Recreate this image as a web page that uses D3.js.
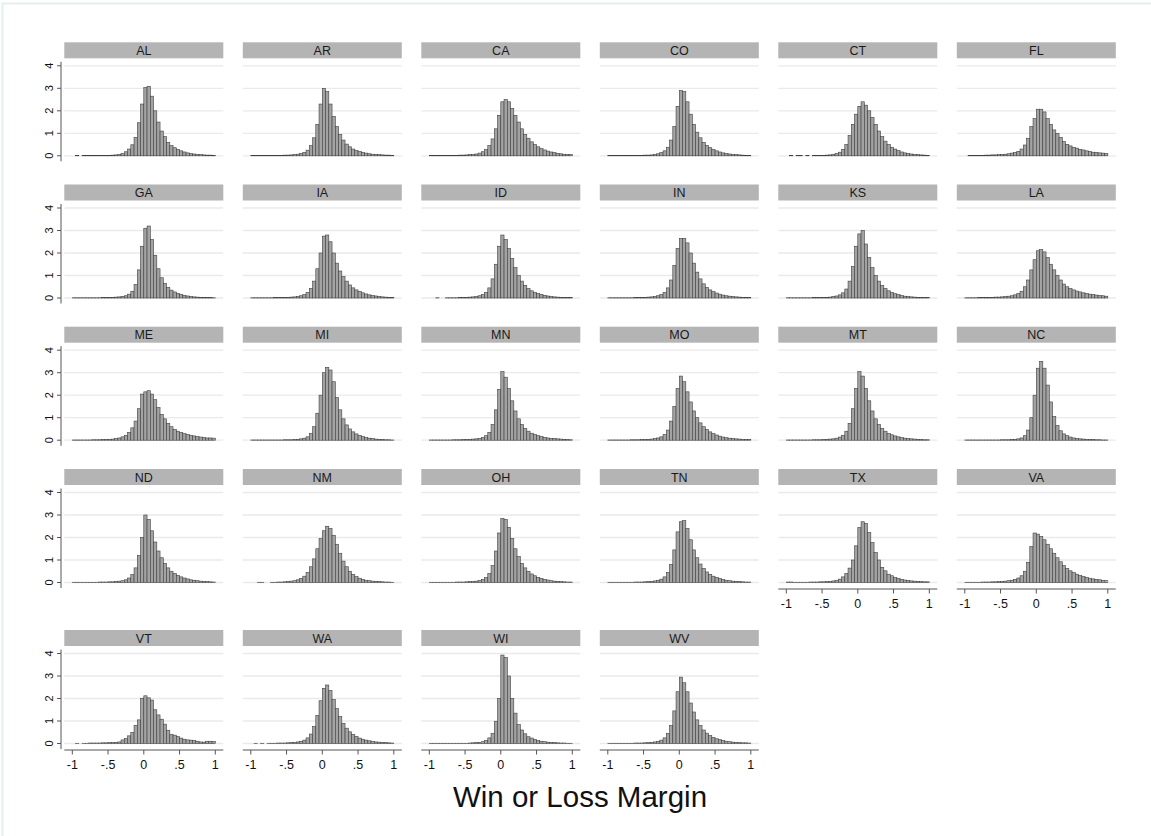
<!DOCTYPE html>
<html>
<head>
<meta charset="utf-8">
<script src="https://d3js.org/d3.v7.min.js"></script>
<style>
  body { margin: 0; background: #ffffff; }
  #chart text { font-family: Arial, "Liberation Sans", sans-serif; }
</style>
</head>
<body>
<div id="chart"></div>
<script>
// histogram density of win or loss margin, one panel per state
// 44 bins from -1 to 1, values are densities

var states = [
  "AL", "AR", "CA", "CO", "CT", "FL",
  "GA", "IA", "ID", "IN", "KS", "LA",
  "ME", "MI", "MN", "MO", "MT", "NC",
  "ND", "NM", "OH", "TN", "TX", "VA",
  "VT", "WA", "WI", "WV",
];

var binLow = -1;
var binHigh = 1;
var binCount = 44;

var xTicks = [-1, -0.5, 0, 0.5, 1];
var xTickLabels = ["-1", "-.5", "0", ".5", "1"];
var yTicks = [0, 1, 2, 3, 4];

var d_AL = [0, 0.01, 0, 0.01, 0.01, 0.01, 0.01, 0.01, 0.01, 0.01,
  0.02, 0.02, 0.03, 0.04, 0.06, 0.1, 0.18, 0.3, 0.49, 0.82,
  1.47, 2.3, 3.03, 3.09, 2.65, 2.0, 1.5, 1.1, 0.85, 0.6,
  0.45, 0.36, 0.28, 0.22, 0.17, 0.13, 0.1, 0.08, 0.06, 0.05,
  0.04, 0.03, 0.03, 0.02];
var d_AR = [0.01, 0.01, 0.01, 0.01, 0.01, 0.01, 0.01, 0.02, 0.02, 0.02,
  0.03, 0.03, 0.04, 0.05, 0.07, 0.1, 0.15, 0.25, 0.45, 0.8,
  1.4, 2.3, 3.0, 2.85, 2.3, 1.75, 1.3, 0.95, 0.7, 0.52,
  0.4, 0.3, 0.24, 0.19, 0.15, 0.12, 0.09, 0.07, 0.06, 0.05,
  0.04, 0.03, 0.03, 0.02];
var d_CA = [0.01, 0.01, 0.01, 0.01, 0.01, 0.01, 0.02, 0.02, 0.02, 0.03,
  0.03, 0.04, 0.05, 0.06, 0.08, 0.12, 0.18, 0.28, 0.45, 0.75,
  1.2, 1.8, 2.4, 2.5, 2.4, 2.1, 1.8, 1.5, 1.2, 0.95,
  0.78, 0.62, 0.5, 0.4, 0.32, 0.26, 0.21, 0.17, 0.14, 0.11,
  0.09, 0.07, 0.06, 0.05];
var d_CO = [0.01, 0.01, 0.01, 0.01, 0.01, 0.01, 0.01, 0.01, 0.02, 0.02,
  0.02, 0.03, 0.03, 0.04, 0.06, 0.09, 0.14, 0.22, 0.38, 0.7,
  1.3, 2.2, 2.9, 2.85, 2.4, 1.85, 1.4, 1.05, 0.8, 0.6,
  0.46, 0.36, 0.28, 0.22, 0.17, 0.13, 0.1, 0.08, 0.06, 0.05,
  0.04, 0.03, 0.02, 0.02];
var d_CT = [0, 0.01, 0, 0.01, 0.01, 0, 0.01, 0, 0.01, 0.01,
  0.01, 0.02, 0.03, 0.04, 0.06, 0.1, 0.16, 0.28, 0.5, 0.9,
  1.4, 1.85, 2.2, 2.4, 2.25, 2.0, 1.7, 1.4, 1.1, 0.85,
  0.65, 0.5, 0.38, 0.3, 0.23, 0.17, 0.13, 0.1, 0.08, 0.06,
  0.05, 0.04, 0.03, 0.02];
var d_FL = [0, 0.01, 0.01, 0.02, 0.02, 0.02, 0.03, 0.03, 0.04, 0.04,
  0.05, 0.06, 0.07, 0.09, 0.12, 0.15, 0.2, 0.3, 0.48, 0.78,
  1.3, 1.65, 2.07, 2.07, 1.95, 1.65, 1.4, 1.15, 1.0, 0.82,
  0.63, 0.51, 0.44, 0.38, 0.34, 0.29, 0.26, 0.22, 0.19, 0.16,
  0.15, 0.13, 0.12, 0.1];
var d_GA = [0.01, 0.01, 0.01, 0.01, 0.01, 0.01, 0.01, 0.01, 0.01, 0.02,
  0.02, 0.02, 0.03, 0.04, 0.05, 0.07, 0.1, 0.17, 0.3, 0.6,
  1.25, 2.3, 3.1, 3.2, 2.6, 1.9, 1.3, 0.9, 0.65, 0.47,
  0.35, 0.27, 0.21, 0.16, 0.12, 0.09, 0.07, 0.05, 0.04, 0.03,
  0.03, 0.02, 0.02, 0.01];
var d_IA = [0.01, 0.01, 0.01, 0.01, 0.01, 0.01, 0.01, 0.02, 0.02, 0.02,
  0.03, 0.03, 0.04, 0.05, 0.07, 0.1, 0.15, 0.25, 0.42, 0.75,
  1.3, 2.0, 2.75, 2.8, 2.5, 2.0, 1.55, 1.2, 0.95, 0.75,
  0.58, 0.45, 0.36, 0.29, 0.23, 0.18, 0.14, 0.11, 0.09, 0.07,
  0.05, 0.04, 0.03, 0.02];
var d_ID = [0, 0, 0.01, 0, 0, 0.01, 0.01, 0.01, 0.01, 0.02,
  0.02, 0.03, 0.04, 0.05, 0.07, 0.1, 0.15, 0.25, 0.45, 0.85,
  1.5, 2.3, 2.8, 2.6, 2.2, 1.75, 1.35, 1.0, 0.75, 0.56,
  0.42, 0.32, 0.25, 0.2, 0.16, 0.12, 0.09, 0.07, 0.05, 0.04,
  0.03, 0.03, 0.02, 0.02];
var d_IN = [0.01, 0.01, 0.01, 0.01, 0.01, 0.01, 0.01, 0.01, 0.02, 0.02,
  0.02, 0.03, 0.04, 0.05, 0.07, 0.1, 0.15, 0.25, 0.45, 0.8,
  1.45, 2.2, 2.65, 2.65, 2.45, 2.0, 1.55, 1.15, 0.85, 0.63,
  0.47, 0.36, 0.28, 0.22, 0.17, 0.13, 0.1, 0.08, 0.06, 0.05,
  0.04, 0.03, 0.02, 0.02];
var d_KS = [0.01, 0.01, 0.01, 0.01, 0.01, 0.01, 0.01, 0.01, 0.02, 0.02,
  0.02, 0.03, 0.03, 0.04, 0.06, 0.09, 0.14, 0.23, 0.4, 0.75,
  1.4, 2.3, 2.85, 3.0, 2.4, 1.8, 1.35, 1.0, 0.75, 0.56,
  0.42, 0.32, 0.25, 0.19, 0.15, 0.11, 0.08, 0.06, 0.05, 0.04,
  0.03, 0.03, 0.02, 0.02];
var d_LA = [0.01, 0.01, 0.01, 0.01, 0.02, 0.02, 0.02, 0.03, 0.03, 0.04,
  0.04, 0.05, 0.06, 0.08, 0.1, 0.14, 0.2, 0.3, 0.5, 0.8,
  1.25, 1.7, 2.1, 2.15, 2.05, 1.8, 1.5, 1.25, 1.0, 0.8,
  0.62, 0.5, 0.42, 0.36, 0.31, 0.27, 0.23, 0.2, 0.17, 0.15,
  0.13, 0.11, 0.1, 0.08];
var d_ME = [0.01, 0.01, 0.01, 0.01, 0.01, 0.01, 0.02, 0.02, 0.02, 0.03,
  0.03, 0.04, 0.05, 0.07, 0.1, 0.15, 0.22, 0.35, 0.55, 0.85,
  1.4, 2.05, 2.15, 2.2, 2.05, 1.8, 1.45, 1.15, 0.95, 0.75,
  0.6, 0.48, 0.4, 0.34, 0.29, 0.25, 0.22, 0.19, 0.16, 0.14,
  0.12, 0.1, 0.1, 0.09];
var d_MI = [0.01, 0.01, 0.01, 0.01, 0.01, 0.01, 0.01, 0.01, 0.01, 0.01,
  0.02, 0.02, 0.02, 0.03, 0.04, 0.06, 0.09, 0.15, 0.3, 0.6,
  1.2, 2.0, 3.0, 3.24, 3.12, 2.6, 1.9, 1.35, 0.95, 0.68,
  0.5, 0.37, 0.28, 0.21, 0.16, 0.12, 0.09, 0.07, 0.05, 0.04,
  0.03, 0.02, 0.02, 0.01];
var d_MN = [0.01, 0.01, 0.01, 0.01, 0.01, 0.01, 0.01, 0.02, 0.02, 0.02,
  0.03, 0.03, 0.04, 0.05, 0.06, 0.08, 0.12, 0.2, 0.35, 0.7,
  1.35, 2.25, 3.05, 2.8, 2.3, 1.75, 1.3, 0.95, 0.7, 0.52,
  0.4, 0.31, 0.25, 0.2, 0.16, 0.13, 0.1, 0.08, 0.07, 0.06,
  0.05, 0.04, 0.03, 0.02];
var d_MO = [0.01, 0.01, 0.01, 0.01, 0.01, 0.01, 0.01, 0.02, 0.02, 0.02,
  0.03, 0.03, 0.04, 0.05, 0.07, 0.1, 0.15, 0.25, 0.45, 0.85,
  1.5, 2.3, 2.85, 2.6, 2.15, 1.7, 1.3, 1.0, 0.77, 0.6,
  0.47, 0.37, 0.29, 0.23, 0.18, 0.14, 0.11, 0.09, 0.07, 0.06,
  0.05, 0.04, 0.03, 0.03];
var d_MT = [0.01, 0.01, 0.01, 0.01, 0.01, 0.01, 0.01, 0.01, 0.02, 0.02,
  0.02, 0.03, 0.04, 0.05, 0.06, 0.09, 0.14, 0.22, 0.4, 0.75,
  1.4, 2.3, 3.05, 2.85, 2.3, 1.75, 1.3, 0.95, 0.7, 0.52,
  0.4, 0.3, 0.24, 0.19, 0.15, 0.12, 0.09, 0.07, 0.06, 0.05,
  0.04, 0.03, 0.02, 0.02];
var d_NC = [0.01, 0.01, 0.01, 0.01, 0.01, 0.01, 0.01, 0.01, 0.01, 0.01,
  0.01, 0.02, 0.02, 0.02, 0.03, 0.04, 0.06, 0.1, 0.2, 0.45,
  1.0, 2.0, 3.2, 3.5, 3.2, 2.45, 1.7, 1.05, 0.65, 0.42,
  0.28, 0.2, 0.14, 0.1, 0.08, 0.06, 0.05, 0.04, 0.03, 0.03,
  0.02, 0.02, 0.01, 0.01];
var d_ND = [0.01, 0.01, 0.01, 0.01, 0.01, 0.01, 0.01, 0.01, 0.02, 0.02,
  0.02, 0.03, 0.03, 0.04, 0.06, 0.08, 0.12, 0.2, 0.35, 0.65,
  1.2, 2.0, 3.0, 2.8, 2.3, 1.8, 1.4, 1.1, 0.85, 0.65,
  0.5, 0.4, 0.32, 0.25, 0.2, 0.16, 0.12, 0.1, 0.08, 0.06,
  0.05, 0.04, 0.03, 0.02];
var d_NM = [0, 0, 0.01, 0.01, 0, 0, 0.01, 0.01, 0.02, 0.02,
  0.03, 0.04, 0.06, 0.08, 0.12, 0.18, 0.28, 0.45, 0.7, 1.05,
  1.5, 1.95, 2.3, 2.5, 2.4, 2.1, 1.7, 1.3, 0.95, 0.7,
  0.5, 0.36, 0.26, 0.19, 0.14, 0.1, 0.08, 0.06, 0.05, 0.04,
  0.03, 0.02, 0.02, 0.01];
var d_OH = [0.01, 0.01, 0.01, 0.01, 0.01, 0.01, 0.01, 0.01, 0.02, 0.02,
  0.02, 0.03, 0.04, 0.05, 0.06, 0.09, 0.14, 0.22, 0.4, 0.75,
  1.4, 2.2, 2.85, 2.8, 2.45, 1.95, 1.5, 1.15, 0.85, 0.65,
  0.5, 0.38, 0.3, 0.23, 0.18, 0.14, 0.11, 0.08, 0.06, 0.05,
  0.04, 0.03, 0.02, 0.02];
var d_TN = [0.01, 0.01, 0.01, 0.01, 0.01, 0.01, 0.01, 0.01, 0.02, 0.02,
  0.02, 0.03, 0.04, 0.05, 0.07, 0.1, 0.15, 0.25, 0.45, 0.8,
  1.45, 2.25, 2.7, 2.75, 2.4, 1.9, 1.45, 1.1, 0.82, 0.62,
  0.47, 0.36, 0.28, 0.22, 0.17, 0.13, 0.1, 0.08, 0.06, 0.05,
  0.04, 0.03, 0.02, 0.02];
var d_TX = [0.02, 0.02, 0.01, 0.01, 0.01, 0.01, 0.01, 0.02, 0.02, 0.02,
  0.03, 0.03, 0.04, 0.05, 0.07, 0.1, 0.15, 0.25, 0.4, 0.64,
  1.0, 1.63, 2.44, 2.7, 2.62, 2.22, 1.78, 1.33, 1.0, 0.67,
  0.52, 0.37, 0.3, 0.22, 0.18, 0.14, 0.11, 0.09, 0.07, 0.06,
  0.05, 0.04, 0.03, 0.03];
var d_VA = [0.01, 0.01, 0.01, 0.01, 0.01, 0.02, 0.02, 0.02, 0.03, 0.03,
  0.04, 0.05, 0.06, 0.08, 0.1, 0.14, 0.2, 0.3, 0.5, 0.9,
  1.6, 2.2, 2.15, 2.05, 1.9, 1.7, 1.5, 1.3, 1.1, 0.92,
  0.75, 0.62, 0.52, 0.44, 0.37, 0.31, 0.26, 0.22, 0.19, 0.16,
  0.14, 0.12, 0.1, 0.08];
var d_VT = [0, 0.01, 0, 0.01, 0.01, 0.02, 0.02, 0.02, 0.02, 0.03,
  0.03, 0.04, 0.04, 0.05, 0.07, 0.16, 0.22, 0.34, 0.49, 0.81,
  1.05, 2.01, 2.12, 2.03, 1.93, 1.5, 1.27, 1.08, 0.86, 0.59,
  0.41, 0.37, 0.31, 0.24, 0.19, 0.16, 0.15, 0.13, 0.1, 0.07,
  0.06, 0.1, 0.1, 0.09];
var d_WA = [0, 0.01, 0, 0.01, 0, 0.01, 0.01, 0.01, 0.02, 0.02,
  0.02, 0.03, 0.04, 0.05, 0.07, 0.1, 0.15, 0.25, 0.42, 0.75,
  1.25, 1.9, 2.45, 2.6, 2.35, 1.95, 1.55, 1.2, 0.9, 0.68,
  0.52, 0.4, 0.31, 0.24, 0.19, 0.15, 0.12, 0.09, 0.07, 0.06,
  0.05, 0.04, 0.03, 0.02];
var d_WI = [0.01, 0.01, 0.01, 0.01, 0.01, 0.01, 0.01, 0.01, 0.01, 0.01,
  0.01, 0.01, 0.02, 0.03, 0.04, 0.05, 0.08, 0.13, 0.25, 0.45,
  0.99, 2.0, 3.93, 3.82, 3.0, 2.0, 1.35, 0.84, 0.6, 0.43,
  0.3, 0.24, 0.18, 0.13, 0.1, 0.08, 0.06, 0.05, 0.04, 0.03,
  0.02, 0.02, 0.01, 0.01];
var d_WV = [0.01, 0.01, 0.01, 0.01, 0.01, 0.01, 0.01, 0.01, 0.02, 0.02,
  0.02, 0.03, 0.04, 0.05, 0.07, 0.1, 0.15, 0.25, 0.45, 0.8,
  1.45, 2.3, 2.95, 2.7, 2.3, 1.8, 1.4, 1.05, 0.8, 0.6,
  0.46, 0.35, 0.27, 0.21, 0.17, 0.13, 0.1, 0.08, 0.06, 0.05,
  0.04, 0.03, 0.03, 0.02];

// same order as states
var series = [
  d_AL, d_AR, d_CA, d_CO, d_CT, d_FL,
  d_GA, d_IA, d_ID, d_IN, d_KS, d_LA,
  d_ME, d_MI, d_MN, d_MO, d_MT, d_NC,
  d_ND, d_NM, d_OH, d_TN, d_TX, d_VA,
  d_VT, d_WA, d_WI, d_WV,
];

var width = 1151;
var height = 836;

// panel layout
var nCols = 6;
var colLeft = 64.3;
var colPitch = 178.5;
var panelW = 159;
var headerH = 16;
var rowTops = [42.3, 184.5, 326.7, 469, 630];

var svg = d3
  .select("#chart")
  .append("svg")
  .attr("width", width)
  .attr("height", height);

// faint outer frame, only the top and left edge are visible
svg
  .append("rect")
  .attr("x", 2.5)
  .attr("y", 3.5)
  .attr("width", width + 20)
  .attr("height", height + 20)
  .attr("fill", "none")
  .attr("stroke", "#e4efee")
  .attr("stroke-width", 2);

var x = d3.scaleLinear().domain([-1, 1]).range([8, panelW - 8]);
var y = d3.scaleLinear().domain([0, 4]).range([113.5, 23.5]);
var binW = (binHigh - binLow) / binCount;

for (var i = 0; i < states.length; i++) {
  var row = Math.floor(i / nCols);
  var col = i % nCols;
  var lastInCol = i + nCols >= states.length; // nothing under this panel
  drawPanel(states[i], series[i], colLeft + col * colPitch, rowTops[row], col == 0, lastInCol);
}

function drawPanel(name, vals, px, py, showY, showX) {
  var g = svg.append("g").attr("transform", "translate(" + px + "," + py + ")");

  // grid lines
  g.append("g")
    .selectAll("line")
    .data(yTicks)
    .enter()
    .append("line")
    .attr("x1", 0)
    .attr("x2", panelW)
    .attr("y1", (d) => y(d))
    .attr("y2", (d) => y(d))
    .attr("stroke", "#eaeaea")
    .attr("stroke-width", 1.3);

  // header strip
  g.append("rect")
    .attr("x", 0)
    .attr("y", 0)
    .attr("width", panelW)
    .attr("height", headerH)
    .attr("fill", "#b4b4b4");
  g.append("text")
    .attr("x", panelW / 2)
    .attr("y", 12.5)
    .attr("text-anchor", "middle")
    .attr("font-size", "12.5px")
    .attr("fill", "#1a1a1a")
    .text(name);

  // bars
  var bars = [];
  for (var k = 0; k < vals.length; k++) {
    if (vals[k] > 0) bars.push({ lo: binLow + k * binW, hi: binLow + (k + 1) * binW, v: vals[k] });
  }
  g.append("g")
    .selectAll("rect")
    .data(bars)
    .enter()
    .append("rect")
    .attr("x", (d) => x(d.lo))
    .attr("width", (d) => x(d.hi) - x(d.lo))
    .attr("y", (d) => y(d.v))
    .attr("height", (d) => y(0) - y(d.v))
    .attr("fill", "#a3a3a3")
    .attr("stroke", "#3f3f3f")
    .attr("stroke-width", 0.6);

  if (showY) {
    var ay = g.append("g").attr("transform", "translate(-3.3,0)");
    ay.append("line")
      .attr("x1", 0)
      .attr("x2", 0)
      .attr("y1", 19.5)
      .attr("y2", 119)
      .attr("stroke", "#555")
      .attr("stroke-width", 1);
    ay.selectAll(".tk")
      .data(yTicks)
      .enter()
      .append("line")
      .attr("x1", -4)
      .attr("x2", 0)
      .attr("y1", (d) => y(d))
      .attr("y2", (d) => y(d))
      .attr("stroke", "#555");
    ay.selectAll("text")
      .data(yTicks)
      .enter()
      .append("text")
      .attr("transform", (d) => "translate(-8," + y(d) + ") rotate(-90)")
      .attr("text-anchor", "middle")
      .attr("font-size", "11px")
      .attr("fill", "#111")
      .text((d) => d);
  }

  if (showX) {
    var ax = g.append("g").attr("transform", "translate(0,120)");
    ax.append("line")
      .attr("x1", 0)
      .attr("x2", panelW)
      .attr("y1", 0)
      .attr("y2", 0)
      .attr("stroke", "#555");
    ax.selectAll(".tk")
      .data(xTicks)
      .enter()
      .append("line")
      .attr("x1", (d) => x(d))
      .attr("x2", (d) => x(d))
      .attr("y1", 0)
      .attr("y2", 4.5)
      .attr("stroke", "#555");
    ax.selectAll("text")
      .data(xTicks)
      .enter()
      .append("text")
      .attr("x", (d) => x(d))
      .attr("y", 19)
      .attr("text-anchor", "middle")
      .attr("font-size", "12.5px")
      .attr("fill", "#111")
      .text((d, j) => xTickLabels[j]);
  }
}

// x axis title
svg
  .append("text")
  .attr("x", 580)
  .attr("y", 807)
  .attr("text-anchor", "middle")
  .attr("font-size", "29.5px")
  .attr("fill", "#111")
  .text("Win or Loss Margin");
</script>
</body>
</html>
